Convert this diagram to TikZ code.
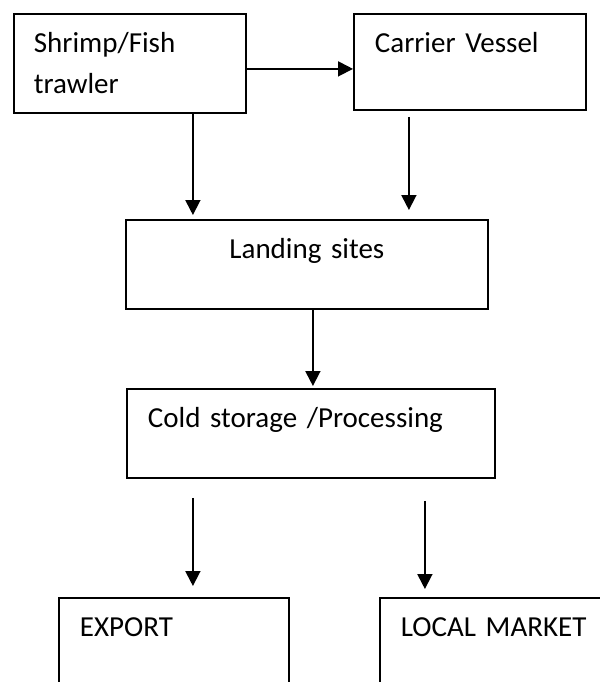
\documentclass[tikz,border=0pt]{standalone}
\usepackage{fontspec}
\setmainfont{Carlito}
\usetikzlibrary{arrows.meta}

\tikzset{
  stage/.style={draw,line width=1.8bp,anchor=north west,inner xsep=21bp,inner ysep=0pt,
    align=left,text height=39bp,font=\fontsize{29bp}{41bp}\selectfont},
}

\begin{document}
\begin{tikzpicture}[x=1bp,y=-1bp,>={Triangle[width=15bp,length=15bp]},line width=1.8bp]
\clip (0,0) rectangle (600,682);
\node[stage,inner xsep=20bp,text width=192bp,text depth=60bp] (trawler) at (13,13) {Shrimp/Fish\\trawler};
\node[stage,text width=190bp,text depth=57bp] (carrier) at (353,13) {Carrier Vessel};
\node[stage,align=center,text width=320bp,text depth=50bp] (landing) at (125,219) {Landing sites};
\node[stage,text width=326bp,text depth=50bp] (cold) at (126,388) {Cold storage /Processing};
\node[stage,text width=188bp,text depth=80bp] (export) at (58,597) {EXPORT};
\node[stage,text width=199bp,text depth=80bp] (local) at (379,597) {LOCAL MARKET};
\draw[->] ([yshift=-5.5bp]trawler.east)--([yshift=-5.5bp]trawler.east -| carrier.west);
\draw[->,shorten >=4bp] ([xshift=63bp]trawler.south)--([xshift=63bp]trawler.south |- landing.north);
\draw[->,shorten <=6bp,shorten >=9bp] ([xshift=-61bp]carrier.south)--([xshift=-61bp]carrier.south |- landing.north);
\draw[->,shorten >=2bp] ([xshift=6bp]landing.south)--([xshift=6bp]landing.south |- cold.north);
\draw[->,shorten <=19bp,shorten >=11bp] ([xshift=19bp]export.north |- cold.south)--([xshift=19bp]export.north);
\draw[->,shorten <=22bp,shorten >=8bp] ([xshift=-75.5bp]local.north |- cold.south)--([xshift=-75.5bp]local.north);
\end{tikzpicture}
\end{document}
